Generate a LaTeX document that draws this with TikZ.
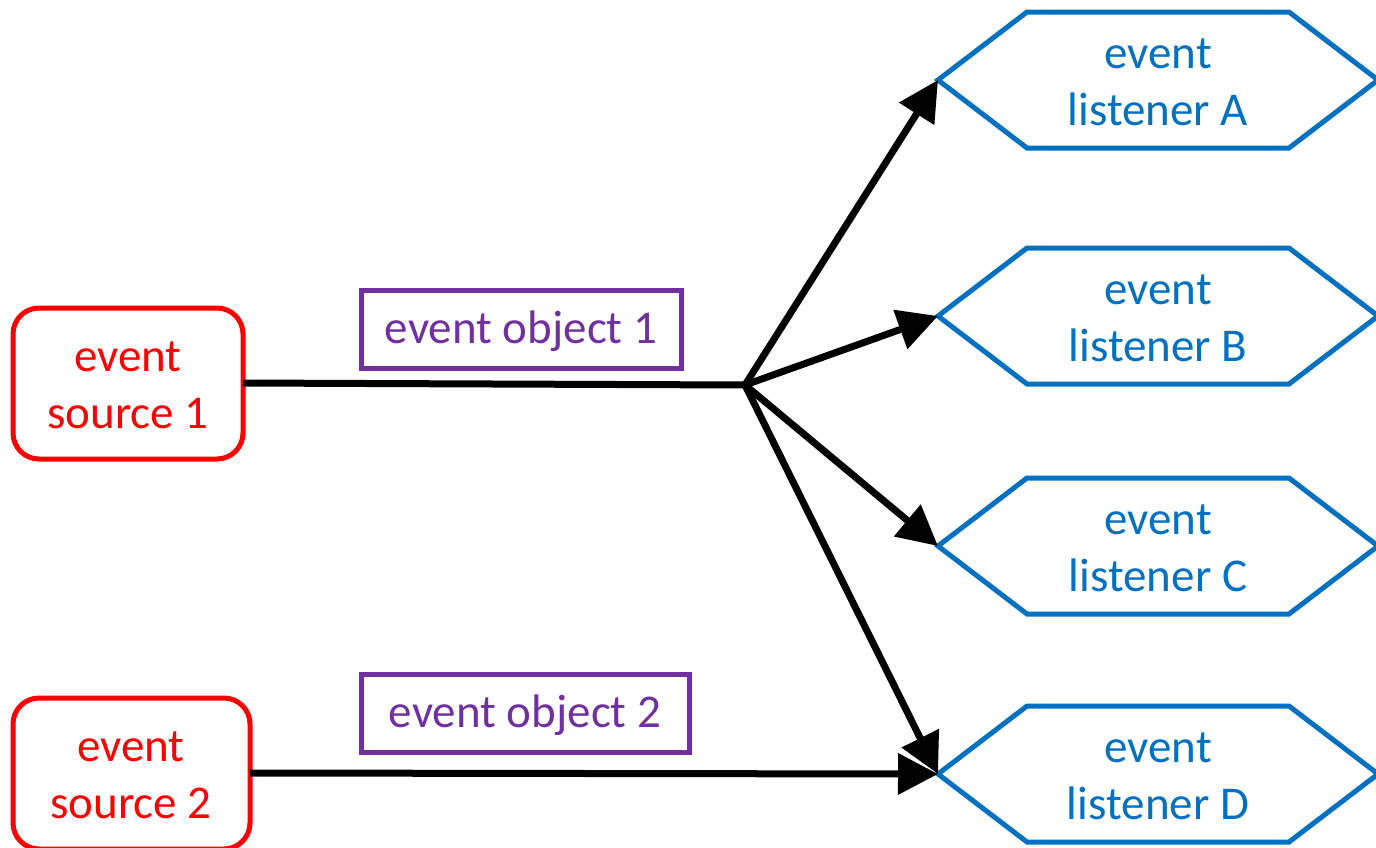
\documentclass[tikz,border=0pt]{standalone}
\usepackage{fontspec}
\setmainfont{Carlito}
\usetikzlibrary{arrows.meta}
\definecolor{srcred}{HTML}{FF0000}
\definecolor{objpurple}{HTML}{7030A0}
\definecolor{lisblue}{HTML}{0070C0}
\begin{document}
\begin{tikzpicture}[x=1pt,y=-1pt,
  txt/.style={font=\fontsize{47}{57}\selectfont, align=center, inner sep=0pt},
  srcbox/.style={draw=srcred, line width=5pt, rounded corners=26pt},
  objbox/.style={draw=objpurple, line width=5pt},
  hexline/.style={draw=lisblue, line width=5pt, line join=miter},
  conn/.style={line width=7pt, -{Triangle[length=40pt,width=40pt]}},
  plain/.style={line width=7pt}]
\useasboundingbox (0,0) rectangle (1376,847);
% sources
\draw[srcbox] (13,308) rectangle (243,459);
\node[txt, text=srcred] (s1) at (128,385) {event\\source 1};
\coordinate (s1e) at (243,383);
\draw[srcbox] (13,698) rectangle (250,849);
\node[txt, text=srcred] (s2) at (131,775) {event\\source 2};
\coordinate (s2e) at (250,773);
% event objects
\draw[objbox] (361,290) rectangle (681,368);
\node[txt, text=objpurple] (o1) at (521,331) {event object 1};
\draw[objbox] (361,674) rectangle (689,752);
\node[txt, text=objpurple] (o2) at (525,715) {event object 2};
% listeners
\foreach \n/\y/\l in {A/80/A, B/316/B, C/546/C, D/774/D}{
  \draw[hexline] (938,\y) -- (1027,\y-68) -- (1289,\y-68) -- (1378,\y) -- (1289,\y+68) -- (1027,\y+68) -- cycle;
  \node[txt, text=lisblue] (L\n) at (1158,\y+2) {event\\listener \l};
  \coordinate (P\n) at (938,\y);
}
% connectors
\coordinate (hub) at (745,385);
\draw[plain] (s1e) -- (hub);
\draw[conn] (hub) -- (PA);
\draw[conn] (hub) -- (PB);
\draw[conn] (hub) -- (PC);
\draw[conn] (hub) -- (PD);
\draw[conn] (s2e) -- (PD);
\end{tikzpicture}
\end{document}
